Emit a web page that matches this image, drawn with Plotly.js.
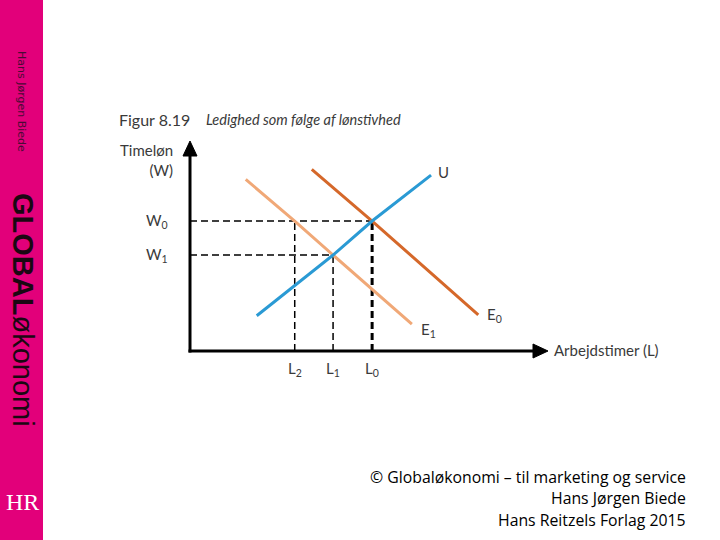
<!DOCTYPE html>
<html><head><meta charset="utf-8">
<script src="https://cdn.plot.ly/plotly-3.0.1.min.js"></script>
<style>html,body{margin:0;padding:0;background:#fff;}</style>
</head><body>
<div id="chart" style="width:720px;height:540px;"></div>
<script>
// ---- values (chart units, origin at the axes corner) ----
const U_x  = [1.88, 4.03, 5.13, 6.79];
const U_y  = [1.71, 4.66, 6.31, 8.54];
const E1_x = [1.57, 2.95, 4.03, 6.25];
const E1_y = [8.33, 6.31, 4.66, 1.30];
const E0_x = [3.43, 5.13, 8.12];
const E0_y = [8.82, 6.31, 1.75];
const wageLevels = [6.31, 4.66];            // W0, W1
const wageLabels = ['W<sub>0</sub>', 'W<sub>1</sub>'];
const hourLevels = [2.95, 4.03, 5.13];      // L2, L1, L0
const hourLabels = ['L<sub>2</sub>', 'L<sub>1</sub>', 'L<sub>0</sub>'];
const curveNames = ['U', 'E<sub>1</sub>', 'E<sub>0</sub>'];

const X_MAX = 10.056, Y_MAX = 10.146;
const L = 190, T = 142, W = 357, H = 209;
const px = p => (p - L) / W;
const py = p => (T + H - p) / H;

const chartFont = 'Lato, "Open Sans", sans-serif';
const ink = '#3a3a3a';

const traces = [];
const dashStyle = '7px,4px';
// horizontal: W0 to L0, W1 to L1
traces.push({x:[0, hourLevels[2]], y:[wageLevels[0], wageLevels[0]], mode:'lines',
  line:{color:'#000', width:1.5, dash:dashStyle}, cliponaxis:false, hoverinfo:'skip'});
traces.push({x:[0, hourLevels[1]], y:[wageLevels[1], wageLevels[1]], mode:'lines',
  line:{color:'#000', width:1.5, dash:dashStyle}, cliponaxis:false, hoverinfo:'skip'});
// vertical: L2 from W0, L1 from W1, L0 from W0 (thicker)
traces.push({x:[hourLevels[0], hourLevels[0]], y:[0, wageLevels[0]], mode:'lines',
  line:{color:'#000', width:1.5, dash:dashStyle}, cliponaxis:false, hoverinfo:'skip'});
traces.push({x:[hourLevels[1], hourLevels[1]], y:[0, wageLevels[1]], mode:'lines',
  line:{color:'#000', width:1.5, dash:dashStyle}, cliponaxis:false, hoverinfo:'skip'});
traces.push({x:[hourLevels[2], hourLevels[2]], y:[0, wageLevels[0]], mode:'lines',
  line:{color:'#000', width:3, dash:'7px,4px'}, cliponaxis:false, hoverinfo:'skip'});
// curves
traces.push({x:E1_x, y:E1_y, mode:'lines', line:{color:'#f0a877', width:3}, cliponaxis:false});
traces.push({x:E0_x, y:E0_y, mode:'lines', line:{color:'#d5682a', width:3}, cliponaxis:false});
traces.push({x:U_x,  y:U_y,  mode:'lines', line:{color:'#2a9ad4', width:3}, cliponaxis:false});

const ann = [];
// wage labels
wageLevels.forEach((v,i)=>ann.push({xref:'x', yref:'y', x:0, y:v, xanchor:'right', yanchor:'middle',
  xshift:-20, text:wageLabels[i], showarrow:false, font:{family:chartFont, size:15, color:ink}}));
// hour labels
hourLevels.forEach((v,i)=>ann.push({xref:'x', yref:'y', x:v, y:0, xanchor:'center', yanchor:'top',
  yshift:-6, text:hourLabels[i], showarrow:false, font:{family:chartFont, size:15, color:ink}}));
// curve labels
ann.push({xref:'x', yref:'y', x:U_x[U_x.length-1], y:U_y[U_y.length-1], xanchor:'left', yanchor:'middle',
  xshift:5, yshift:3, text:curveNames[0], showarrow:false, font:{family:chartFont, size:15, color:ink}});
ann.push({xref:'x', yref:'y', x:E1_x[E1_x.length-1], y:E1_y[E1_y.length-1], xanchor:'left', yanchor:'middle',
  xshift:7, yshift:-6, text:curveNames[1], showarrow:false, font:{family:chartFont, size:15, color:ink}});
ann.push({xref:'x', yref:'y', x:E0_x[E0_x.length-1], y:E0_y[E0_y.length-1], xanchor:'left', yanchor:'middle',
  xshift:7, yshift:0, text:curveNames[2], showarrow:false, font:{family:chartFont, size:15, color:ink}});
// axis titles
ann.push({xref:'paper', yref:'paper', x:px(552), y:py(350), xanchor:'left', yanchor:'middle',
  text:'Arbejdstimer (L)', showarrow:false, font:{family:chartFont, size:15, color:ink}});
ann.push({xref:'paper', yref:'paper', x:px(175), y:py(160), xanchor:'right', yanchor:'middle', align:'right',
  text:'Timeløn<br>(W)', showarrow:false, font:{family:chartFont, size:15, color:ink}});
// figure title
ann.push({xref:'paper', yref:'paper', x:px(117), y:py(120), xanchor:'left', yanchor:'middle',
  text:'Figur 8.19', showarrow:false, font:{family:chartFont, size:16, color:ink}});
ann.push({xref:'paper', yref:'paper', x:px(204), y:py(120), xanchor:'left', yanchor:'middle',
  text:'<i>Ledighed som følge af lønstivhed</i>', showarrow:false, font:{family:chartFont, size:14.5, color:ink}});
// credits
const credits = ['© Globaløkonomi – til marketing og service', 'Hans Jørgen Biede', 'Hans Reitzels Forlag 2015'];
const creditY = [477, 498, 520];
credits.forEach((c,i)=>ann.push({xref:'paper', yref:'paper', x:px(688), y:py(creditY[i]), xanchor:'right', yanchor:'middle',
  text:c, showarrow:false, font:{family:'"Open Sans", sans-serif', size:15.8, color:'#000'}}));
// sidebar texts
ann.push({xref:'paper', yref:'paper', x:px(22), y:py(101), xanchor:'center', yanchor:'middle', textangle:90,
  text:'Hans Jørgen Biede', showarrow:false, font:{family:'"DejaVu Sans", sans-serif', size:11, color:'#4a0a35'}});
ann.push({xref:'paper', yref:'paper', x:px(23), y:py(310), xanchor:'center', yanchor:'middle', textangle:90,
  text:'<b>GLOBAL</b>økonomi', showarrow:false, font:{family:'"Liberation Sans", Arial, sans-serif', size:29, color:'#1a0812'}});
ann.push({xref:'paper', yref:'paper', x:px(22), y:py(502), xanchor:'center', yanchor:'middle',
  text:'HR', showarrow:false, font:{family:'"Liberation Serif", serif', size:24, color:'#ffffff'}});

// axes with arrowheads (paper coordinates of the frame)
const shapes = [
  {type:'rect', xref:'paper', yref:'paper', x0:px(0), x1:px(43), y0:py(0), y1:py(540),
   fillcolor:'#e2007a', line:{width:0}, layer:'below'},
  {type:'line', xref:'paper', yref:'paper', x0:px(190), x1:px(190), y0:py(352.5), y1:py(152),
   line:{color:'#000', width:3}},
  {type:'line', xref:'paper', yref:'paper', x0:px(188.5), x1:px(536), y0:py(351), y1:py(351),
   line:{color:'#000', width:3}},
  {type:'path', xref:'paper', yref:'paper',
   path:`M${px(183)},${py(156)} L${px(190)},${py(141)} L${px(197)},${py(156)} Z`,
   fillcolor:'#000', line:{color:'#000', width:1}},
  {type:'path', xref:'paper', yref:'paper',
   path:`M${px(533)},${py(344)} L${px(548)},${py(351)} L${px(533)},${py(358)} Z`,
   fillcolor:'#000', line:{color:'#000', width:1}}
];

const layout = {
  width:720, height:540,
  margin:{l:L, t:T, r:720-L-W, b:540-T-H, pad:0},
  paper_bgcolor:'#ffffff', plot_bgcolor:'rgba(0,0,0,0)',
  showlegend:false,
  xaxis:{range:[0, X_MAX], showgrid:false, zeroline:false, showline:false, showticklabels:false, ticks:''},
  yaxis:{range:[0, Y_MAX], showgrid:false, zeroline:false, showline:false, showticklabels:false, ticks:''},
  annotations:ann, shapes:shapes
};

Plotly.newPlot('chart', traces, layout, {displayModeBar:false, staticPlot:true});
</script>
</body></html>
